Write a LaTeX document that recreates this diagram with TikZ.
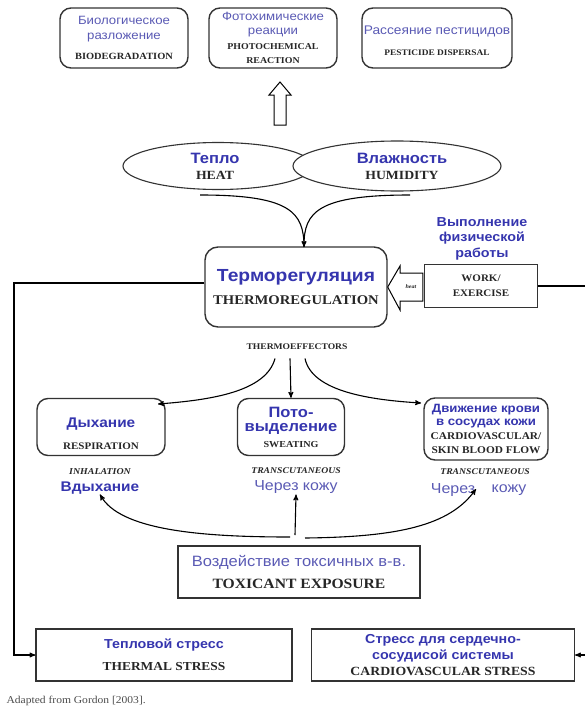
\documentclass[tikz,border=0pt]{standalone}
\usepackage{fontspec}
\setmainfont{Liberation Serif}[FakeStretch=1.1]
\newfontfamily\rufont{Liberation Sans}[FakeStretch=1.1]
\usepackage{xcolor}
\usetikzlibrary{arrows,shapes,positioning,calc}

\definecolor{rublue}{HTML}{3535AE}
\definecolor{rulight}{HTML}{5A5AB4}
\definecolor{entext}{HTML}{262626}

\newcommand{\rub}[2]{{\rufont\bfseries\fontsize{#1}{#1}\selectfont\color{rublue}#2}}
\newcommand{\rul}[2]{{\rufont\fontsize{#1}{#1}\selectfont\color{rulight}#2}}
\newcommand{\en}[2]{{\bfseries\fontsize{#1}{#1}\selectfont\color{entext}#2}}
\newcommand{\eni}[2]{{\bfseries\itshape\fontsize{#1}{#1}\selectfont\color{entext}#2}}
\newcommand{\lift}[1]{\rule{0pt}{#1}}

\begin{document}
\begin{tikzpicture}[x=1pt,y=-1pt,>=stealth',line width=1.1pt]
  \tikzstyle{rbox}=[draw=black!80,rounded corners=11pt,line width=1.4pt,align=center,inner sep=0pt]
  \tikzstyle{sbox}=[draw=black!80,line width=1.2pt,align=center,inner sep=0pt]
  \tikzstyle{oval}=[ellipse,draw=black!80,fill=white,line width=1.1pt,align=center,inner sep=0pt]
  \tikzstyle{label}=[align=center,inner sep=0pt]
  \useasboundingbox (0,0) rectangle (585,709);

  % top row
  \node[rbox,minimum width=128pt,minimum height=60pt] (bio)   at (124,38)
    {\rul{12}{Биологическое}\\[3pt]\rul{12}{разложение}\\[8pt]\en{9.5}{BIODEGRADATION}};
  \node[rbox,minimum width=128pt,minimum height=60pt] (photo) at (273,38)
    {\rul{12}{Фотохимические}\\[2pt]\rul{12}{реакции}\\[3pt]\en{9}{PHOTOCHEMICAL}\\[2pt]\en{9}{REACTION}};
  \node[rbox,minimum width=150pt,minimum height=60pt] (pest)  at (437,38)
    {\lift{14pt}\rul{12.5}{Рассеяние пестицидов}\\[9pt]\en{8.5}{PESTICIDE DISPERSAL}};

  % hollow arrow up
  \draw[line width=1pt,fill=white] (274,125) -- (286,125) -- (286,95) -- (291,95) -- (280,82)
    -- (269,95) -- (274,95) -- cycle;

  % heat and humidity
  \node[oval,minimum width=190pt,minimum height=47pt] (heat) at (218,166)
    {\hspace*{-6pt}\rub{15}{Тепло}\\[4pt]\hspace*{-6pt}\en{12.5}{HEAT}};
  \node[oval,minimum width=208pt,minimum height=50pt] (hum)  at (397,166)
    {\hspace*{10pt}\rub{15}{Влажность}\\[4pt]\hspace*{10pt}\en{12.5}{HUMIDITY}};

  % thermoregulation
  \node[rbox,minimum width=182pt,minimum height=80pt,rounded corners=13pt] (thermo) at (296,287)
    {\rub{17.5}{Терморегуляция}\\[9pt]\en{13.3}{THERMOREGULATION}};
  \coordinate (join) at (304,247);
  \draw (200,195) .. controls (290,195) and (304,212) .. (join);
  \draw[->] (410,195) .. controls (318,195) and (304,212) .. (join);

  % work / exercise
  \node[sbox,minimum width=113pt,minimum height=43pt] (work) at (481,286)
    {\en{10}{WORK/}\\[3pt]\en{10}{EXERCISE}};
  \node[label] (worklab) at (482,239)
    {\rub{13}{Выполнение}\\[3pt]\rub{13}{физической}\\[3pt]\rub{13}{работы}};
  \draw[line width=1pt,fill=white] ($(work.west)+(-1,-13)$) -- (400,273) -- (400,266) -- (thermo.east)
    -- (400,310) -- (400,301) -- ($(work.west)+(-1,15)$) -- cycle;
  \node[label] (heattxt) at (411,287) {\eni{5.5}{heat}};
  \coordinate (rightA) at (585,286);
  \draw (work.east) -- (rightA);

  % thermoeffectors
  \node[label] (eff) at (297,347) {\en{8.7}{THERMOEFFECTORS}};
  \node[rbox,minimum width=128pt,minimum height=57pt] (resp)  at (101,427)
    {\lift{24pt}\rub{14}{Дыхание}\\[10pt]\en{10}{RESPIRATION}};
  \node[rbox,minimum width=107pt,minimum height=57pt] (sweat) at (291,427)
    {\rub{15}{Пото-}\\[2pt]\rub{15}{выделение}\\[4pt]\en{9.2}{SWEATING}};
  \node[rbox,minimum width=124pt,minimum height=62pt] (cardio) at (486,429)
    {\rub{12}{Движение крови}\\[1pt]\rub{12}{в сосудах кожи}\\[2pt]\en{10.3}{CARDIOVASCULAR/}\\[2pt]\en{10.3}{SKIN BLOOD FLOW}};
  \coordinate (respin) at (158,404);
  \coordinate (cardin) at (421,403);
  \draw[->] ($(eff.south)+(-22,8)$) .. controls (266,392) and (210,400) .. (respin);
  \draw[->] ($(eff.south)+(-7,8)$) -- (sweat.north);
  \draw[->] ($(eff.south)+(8,8)$) .. controls (312,392) and (372,400) .. (cardin);

  % routes of exposure
  \node[label] (inh)   at (100,481) {\eni{9}{INHALATION}\\[5pt]\rub{14}{Вдыхание}};
  \node[label] (trans) at (296,481) {\eni{8.8}{TRANSCUTANEOUS}\\[5pt]\rul{14.5}{Через кожу}};
  \node[label] (trans2) at (485,472) {\eni{8.8}{TRANSCUTANEOUS}};
  \node[label] (cher) at (453,490) {\rul{14.5}{Через}};
  \node[label] (kozh) at (509,490) {\rul{14.5}{кожу}};
  \coordinate (skin2) at (476,489);

  % toxicant
  \node[sbox,minimum width=242pt,minimum height=52pt] (tox) at (299,572)
    {\rul{15}{Воздействие токсичных в-в.}\\[9pt]\en{14.2}{TOXICANT EXPOSURE}};
  \draw[->] (290,537) .. controls (200,537) and (120,530) .. (inh.south);
  \draw[->] (295,535) -- (trans.south);
  \draw[->] (305,538) .. controls (400,537) and (450,525) .. (skin2);

  % stress boxes
  \node[sbox,minimum width=256pt,minimum height=52pt] (tstress) at (164,655)
    {\rub{13}{Тепловой стресс}\\[10pt]\en{12.2}{THERMAL STRESS}};
  \node[sbox,minimum width=263pt,minimum height=52pt] (cstress) at (443,655)
    {\rub{13}{Стресс для сердечно-}\\[2pt]\rub{13}{сосудисой системы}\\[4pt]\en{12.5}{CARDIOVASCULAR STRESS}};
  \draw[->] ($(thermo.west)+(0,-4)$) -- (14,283) |- (tstress.west);
  \coordinate (rightB) at (585,655);
  \draw[->] (rightB) -- (cstress.east);

  \node[label,anchor=west] (src) at (6,701) {{\fontsize{10.5}{10.5}\selectfont\color{black!70}Adapted from Gordon [2003].}};
\end{tikzpicture}
\end{document}
